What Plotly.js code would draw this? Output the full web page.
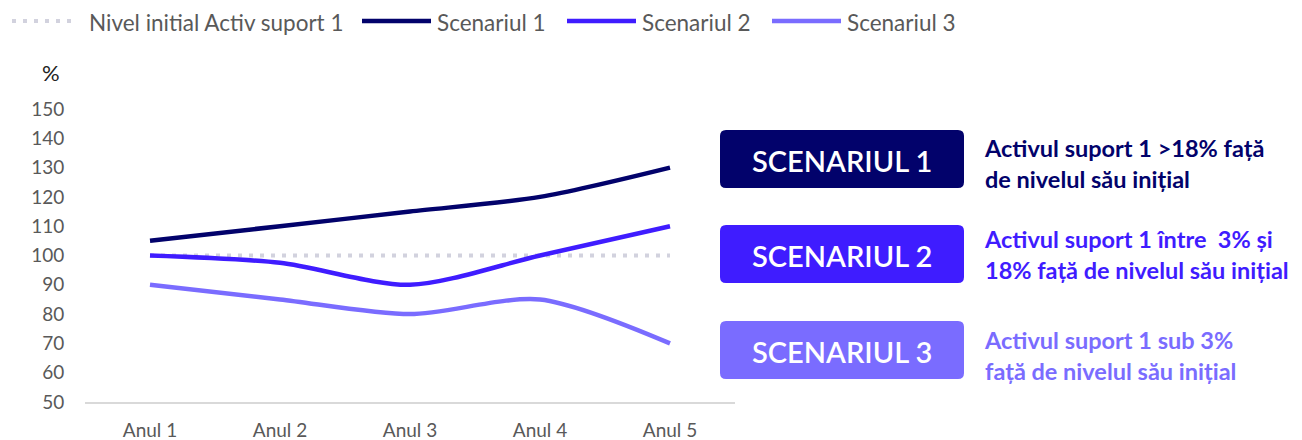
<!DOCTYPE html>
<html><head><meta charset="utf-8">
<script src="https://cdn.plot.ly/plotly-3.0.1.min.js"></script>
<style>html,body{margin:0;padding:0;background:#fff}#c{width:1302px;height:440px}</style>
</head><body><div id="c"></div>
<script>
const categories = ["Anul 1", "Anul 2", "Anul 3", "Anul 4", "Anul 5"];
const baseline = [100, 100, 100, 100, 100];
const scenariul1 = [105, 110, 115, 120, 130];
const scenariul2 = [100, 97.5, 90, 100, 110];
const scenariul3 = [90, 85, 80, 85, 70];
const seriesNames = ["Nivel initial Activ suport 1", "Scenariul 1", "Scenariul 2", "Scenariul 3"];
const boxTitles = ["SCENARIUL 1", "SCENARIUL 2", "SCENARIUL 3"];
const boxTexts = [
  "Activul suport 1 >18% față<br>de nivelul său inițial",
  "Activul suport 1 între  3% și<br>18% față de nivelul său inițial",
  "Activul suport 1 sub 3%<br>față de nivelul său inițial"
];

const C1 = "#02026b", C2 = "#3f1cff", C3 = "#7a6cff", CB = "#d2d2de";
const FONT = "Lato, 'Noto Sans', sans-serif";

// pixel helpers (plot area: x 85..735, y 109..402)
const L = 85, R = 735, T = 109, B = 402;
const px = x => (x - L) / (R - L);
const py = y => (B - y) / (B - T);

const traces = [
  {x: categories, y: baseline, mode: "lines", line: {color: CB, width: 4, dash: "4px,7px"}, name: seriesNames[0]},
  {x: categories, y: scenariul1, mode: "lines", line: {color: C1, width: 4.5, shape: "spline", smoothing: 0.8}, name: seriesNames[1]},
  {x: categories, y: scenariul2, mode: "lines", line: {color: C2, width: 4.5, shape: "spline", smoothing: 0.8}, name: seriesNames[2]},
  {x: categories, y: scenariul3, mode: "lines", line: {color: C3, width: 4.5, shape: "spline", smoothing: 0.8}, name: seriesNames[3]}
];

const shapes = [];
const annotations = [];

// custom legend
const legendItems = [
  {x0: 12, x1: 75, tx: 87, color: CB, w: 4},
  {x0: 362, x1: 431, tx: 435, color: C1, w: 4.5},
  {x0: 567, x1: 636, tx: 640, color: C2, w: 4.5},
  {x0: 772, x1: 841, tx: 845, color: C3, w: 4.5}
];
legendItems.forEach((it, i) => {
  shapes.push({type: "line", xref: "paper", yref: "paper", x0: px(it.x0), x1: px(it.x1), y0: py(21), y1: py(21),
    line: {color: it.color, width: it.w, dash: i === 0 ? "4px,7px" : "solid"}});
  annotations.push({xref: "paper", yref: "paper", x: px(it.tx), y: py(22), xanchor: "left", yanchor: "middle",
    text: seriesNames[i], showarrow: false, font: {family: FONT, size: 22.5, color: "#595959"}});
});

// scenario boxes
const boxColors = [C1, C2, C3];
const boxY = [[130, 188], [225, 283], [321, 379]];
const descY = [163, 254, 355];
function roundRect(x0, y0, x1, y1, r) {
  const X = v => px(v), Y = v => py(v);
  return `M${X(x0 + r)},${Y(y0)} L${X(x1 - r)},${Y(y0)} Q${X(x1)},${Y(y0)} ${X(x1)},${Y(y0 + r)} ` +
    `L${X(x1)},${Y(y1 - r)} Q${X(x1)},${Y(y1)} ${X(x1 - r)},${Y(y1)} L${X(x0 + r)},${Y(y1)} ` +
    `Q${X(x0)},${Y(y1)} ${X(x0)},${Y(y1 - r)} L${X(x0)},${Y(y0 + r)} Q${X(x0)},${Y(y0)} ${X(x0 + r)},${Y(y0)} Z`;
}
boxY.forEach((yy, i) => {
  shapes.push({type: "path", xref: "paper", yref: "paper", path: roundRect(720, yy[0], 964, yy[1], 6),
    fillcolor: boxColors[i], line: {width: 0}});
  annotations.push({xref: "paper", yref: "paper", x: px(842), y: py((yy[0] + yy[1]) / 2 + 1), xanchor: "center", yanchor: "middle",
    text: boxTitles[i], showarrow: false, font: {family: FONT, size: 29, color: "#ffffff", weight: 600}});
  annotations.push({xref: "paper", yref: "paper", x: px(982), y: py(descY[i]), xanchor: "left", yanchor: "middle",
    align: "left", text: boxTexts[i], showarrow: false, font: {family: FONT, size: 23.5, color: boxColors[i], weight: 700}});
});

// % label
annotations.push({xref: "paper", yref: "paper", x: px(51), y: py(73), xanchor: "center", yanchor: "middle",
  text: "%", showarrow: false, font: {family: FONT, size: 22, color: "#222222"}});

const layout = {
  width: 1302, height: 440,
  margin: {l: L, r: 1302 - R, t: T, b: 440 - B, pad: 0},
  paper_bgcolor: "#ffffff", plot_bgcolor: "#ffffff",
  showlegend: false,
  font: {family: FONT, color: "#595959"},
  xaxis: {type: "category", range: [-0.5, 4.5], showgrid: false, zeroline: false,
    showline: true, linecolor: "#d9d9d9", linewidth: 2,
    ticks: "outside", ticklen: 10, tickcolor: "rgba(0,0,0,0)",
    tickfont: {family: FONT, size: 19, color: "#595959"}, fixedrange: true},
  yaxis: {range: [50, 150], dtick: 10, tick0: 50, showgrid: false, zeroline: false, showline: false,
    ticks: "outside", ticklen: 16, tickcolor: "rgba(0,0,0,0)",
    tickfont: {family: FONT, size: 19, color: "#595959"}, fixedrange: true},
  shapes: shapes,
  annotations: annotations
};

Plotly.newPlot("c", traces, layout, {displayModeBar: false, staticPlot: true});
</script>
</body></html>
